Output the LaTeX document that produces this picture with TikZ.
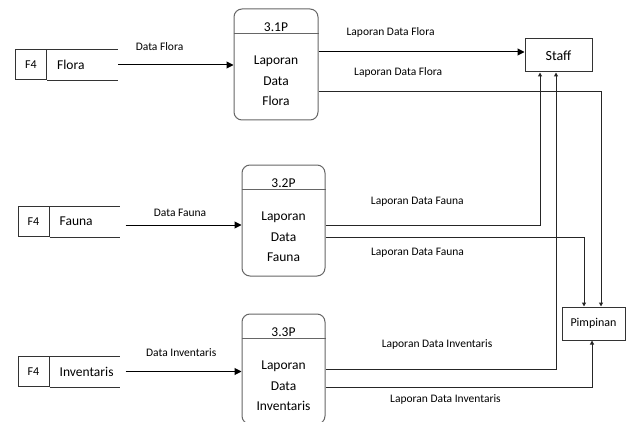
\documentclass[tikz,border=0pt]{standalone}
\usepackage{fontspec}
\setmainfont{Carlito}
\usetikzlibrary{arrows.meta,positioning}

\begin{document}
\begin{tikzpicture}[x=1pt,y=-1pt,
    proc/.style={draw=black!60, line width=1pt, rounded corners=8pt, minimum width=83pt, minimum height=111pt, inner sep=0pt},
    procline/.style={draw=black!60, line width=1pt},
    procid/.style={font=\fontsize{13.5}{16}\selectfont},
    proctext/.style={align=center, font=\fontsize{13.5}{20.5}\selectfont},
    storeid/.style={draw=black!80, line width=1pt, minimum width=31pt, minimum height=30pt, inner sep=0pt, font=\fontsize{12}{14}\selectfont},
    storename/.style={anchor=west, inner xsep=10pt, font=\fontsize{13.5}{16}\selectfont},
    storeline/.style={draw=black!80, line width=1pt},
    ext/.style={draw=black!80, line width=1pt, minimum height=33pt, inner sep=0pt},
    flow/.style={draw=black, line width=1pt, -{Triangle[length=7pt,width=7pt]}},
    flowsmall/.style={draw=black!85, line width=1pt, -{Triangle[length=4pt,width=4pt]}},
    lbl/.style={font=\fontsize{11.5}{14}\selectfont, inner sep=0pt}]
    \useasboundingbox (0,0) rectangle (636,422);
    \clip (0,0) rectangle (636,422);

    % data stores
    \node[storeid] (f4a) at (31,65) {F4};
    \node[storename] (flora) at (f4a.east) {Flora};
    \coordinate (floraend) at ([xshift=71pt]f4a.east);
    \draw[storeline] (f4a.north east) -- (f4a.north east -| floraend);
    \draw[storeline] (f4a.south east) -- (f4a.south east -| floraend);

    \node[storeid] (f4b) at (33.5,221.5) {F4};
    \node[storename] (fauna) at (f4b.east) {Fauna};
    \coordinate (faunaend) at ([xshift=70pt]f4b.east);
    \draw[storeline] (f4b.north east) -- (f4b.north east -| faunaend);
    \draw[storeline] (f4b.south east) -- (f4b.south east -| faunaend);

    \node[storeid] (f4c) at (33.5,371.5) {F4};
    \node[storename] (inventaris) at (f4c.east) {Inventaris};
    \coordinate (invend) at ([xshift=70pt]f4c.east);
    \draw[storeline] (f4c.north east) -- (f4c.north east -| invend);
    \draw[storeline] (f4c.south east) -- (f4c.south east -| invend);

    % processes
    \node[proc, minimum width=84pt] (p31) at (276,64.5) {};
    \node[procid] (p31id) at ([yshift=-18.5pt]p31.north) {3.1P};
    \draw[procline] ([yshift=-25pt]p31.north west) -- ([yshift=-25pt]p31.north east);
    \node[proctext] (p31txt) at ([yshift=-16.5pt]p31.center) {Laporan\\Data\\Flora};

    \node[proc] (p32) at (283.5,220.5) {};
    \node[procid] (p32id) at ([yshift=-18.5pt]p32.north) {3.2P};
    \draw[procline] ([yshift=-25pt]p32.north west) -- ([yshift=-25pt]p32.north east);
    \node[proctext] (p32txt) at ([yshift=-16.5pt]p32.center) {Laporan\\Data\\Fauna};

    \node[proc, minimum height=110pt] (p33) at (283.5,369) {};
    \node[procid] (p33id) at ([yshift=-18.5pt]p33.north) {3.3P};
    \draw[procline] ([yshift=-25pt]p33.north west) -- ([yshift=-25pt]p33.north east);
    \node[proctext] (p33txt) at ([yshift=-17pt]p33.center) {Laporan\\Data\\Inventaris};

    % external entities
    \node[ext, minimum width=67pt, font=\fontsize{14}{16}\selectfont] (staff) at (558.5,55.5) {Staff};
    \node[ext, minimum width=63pt, font=\fontsize{12}{14}\selectfont] (pimp) at (593.5,323.5) {Pimpinan};

    % data flows in
    \draw[flow] (floraend) -- (floraend -| p31.west)
        node[lbl, pos=.36, yshift=18pt] (ldflora) {Data Flora};
    \coordinate (faunaout) at ([xshift=6pt,yshift=-3.5pt]faunaend);
    \draw[flow] (faunaout) -- (faunaout -| p32.west)
        node[lbl, pos=.47, yshift=12.5pt] (ldfauna) {Data Fauna};
    \coordinate (invout) at ([xshift=6pt]invend);
    \draw[flow] (invout) -- (invout -| p33.west)
        node[lbl, pos=.48, yshift=19pt] (ldinv) {Data Inventaris};

    % data flows out
    \coordinate (staffin) at ([yshift=3.5pt]staff.west);
    \draw[flow] (staffin -| p31.east) -- (staffin)
        node[lbl, pos=.35, yshift=20pt] (lfs) {Laporan Data Flora};
    \draw[flowsmall] ([yshift=-27.5pt]p31.east) -| ([xshift=7.5pt]pimp.north)
        node[lbl, pos=.141, yshift=20pt] (lfp) {Laporan Data Flora};
    \draw[flowsmall] ([yshift=-4.5pt]p32.east) -| ([xshift=-18.5pt]staff.south)
        node[lbl, pos=.214, yshift=23pt] (lfas) {Laporan Data Fauna};
    \draw[flowsmall] ([yshift=-16.5pt]p32.east) -| ([xshift=-9.5pt]pimp.north)
        node[lbl, pos=.178, yshift=-16pt] (lfap) {Laporan Data Fauna};
    \draw[flowsmall] (p33.east) -| ([xshift=-2.5pt]staff.south)
        node[lbl, pos=.242, yshift=25pt] (lis) {Laporan Data Inventaris};
    \draw[flowsmall] ([yshift=-18pt]p33.east) -| ([xshift=-1.5pt]pimp.south)
        node[lbl, pos=.225, yshift=-12pt] (lip) {Laporan Data Inventaris};
\end{tikzpicture}
\end{document}
